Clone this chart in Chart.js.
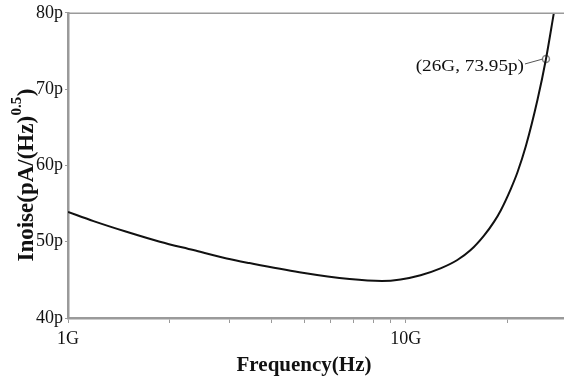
<!DOCTYPE html>
<html>
<head>
<meta charset="utf-8">
<script src="https://cdn.jsdelivr.net/npm/chart.js@4.4.1/dist/chart.umd.min.js"></script>
<style>
  html, body { margin: 0; padding: 0; background: #fff; }
  #wrap { width: 564px; height: 383px; position: relative; }
</style>
</head>
<body>
<div id="wrap"><canvas id="c"></canvas></div>
<script>
// ---- data (frequency in GHz, noise current in pA/sqrt(Hz)) ----
const freqGHz = [1.0, 1.19, 1.49, 1.87, 2.35, 2.95, 3.44, 4.84, 6.82, 8.5, 9.65, 11.06, 12.67, 14.21, 15.56, 17.04, 18.24, 19.10, 20.45, 21.41, 22.66, 24.54, 26.0, 27.44];
const inoise  = [53.9, 52.7, 51.3, 50.0, 48.9, 47.8, 47.2, 46.0, 45.1, 44.85, 45.05, 45.6, 46.5, 47.6, 48.9, 50.8, 52.6, 54.1, 56.9, 59.1, 62.5, 68.6, 73.95, 80.0];
const markerPoint = { f: 26e9, v: 73.95 };
const markerLabel = '(26G, 73.95p)';
const xTickValues = [1e9, 2e9, 3e9, 4e9, 5e9, 6e9, 7e9, 8e9, 9e9, 1e10, 2e10];
const xTickLabels = { 1e9: '1G', 1e10: '10G' };
const yTickValues = [40, 50, 60, 70, 80];
const xTitle = 'Frequency(Hz)';
const yTitleMain = 'Inoise(pA/(Hz)';
const yTitleSup = '0.5';
const yTitleEnd = ')';

const serif = '"Liberation Serif", "Times New Roman", serif';
const axisGray = '#9a9a9a';

const points = freqGHz.map((f, i) => ({ x: f * 1e9, y: inoise[i] }));

const extras = {
  id: 'extras',
  afterDraw(chart) {
    const ctx = chart.ctx;
    const a = chart.chartArea;
    const xs = chart.scales.x, ys = chart.scales.y;
    ctx.save();
    // top border
    ctx.strokeStyle = axisGray;
    ctx.lineWidth = 1.5;
    ctx.beginPath();
    ctx.moveTo(a.left, a.top + 0.5);
    ctx.lineTo(a.right, a.top + 0.5);
    ctx.stroke();

    // marker annotation
    const px = xs.getPixelForValue(markerPoint.f);
    const py = ys.getPixelForValue(markerPoint.v);
    const tx = px - 22, ty = py + 8;
    ctx.strokeStyle = '#555';
    ctx.lineWidth = 1;
    ctx.beginPath();
    ctx.moveTo(tx + 1, ty - 3);
    ctx.lineTo(px - 3, py);
    ctx.stroke();
    ctx.save();
    ctx.translate(tx, ty);
    ctx.scale(1.2, 1);
    ctx.font = '16px ' + serif;
    ctx.fillStyle = '#111';
    ctx.textAlign = 'right';
    ctx.textBaseline = 'middle';
    ctx.fillText(markerLabel, 0, 0);
    ctx.restore();

    // x title
    ctx.font = 'bold 21px ' + serif;
    ctx.fillStyle = '#111';
    ctx.textAlign = 'center';
    ctx.textBaseline = 'middle';
    ctx.fillText(xTitle, 304, 366);

    // y title with superscript
    ctx.translate(25, 175);
    ctx.rotate(-Math.PI / 2);
    const mainFont = 'bold 23px ' + serif;
    const supFont = 'bold 15px ' + serif;
    ctx.font = mainFont;
    const w1 = ctx.measureText(yTitleMain).width;
    const w3 = ctx.measureText(yTitleEnd).width;
    ctx.font = supFont;
    const w2 = ctx.measureText(yTitleSup).width;
    const total = w1 + w2 + w3 + 1;
    let x0 = -total / 2;
    ctx.textAlign = 'left';
    ctx.textBaseline = 'middle';
    ctx.fillStyle = '#111';
    ctx.font = mainFont;
    ctx.fillText(yTitleMain, x0, 2);
    ctx.font = supFont;
    ctx.fillText(yTitleSup, x0 + w1 + 0.5, -8);
    ctx.font = mainFont;
    ctx.fillText(yTitleEnd, x0 + w1 + w2 + 1, 2);
    ctx.restore();
  }
};

new Chart(document.getElementById('c'), {
  type: 'line',
  data: {
    datasets: [
      {
        data: points,
        borderColor: '#111',
        borderWidth: 2,
        pointRadius: 0,
        cubicInterpolationMode: 'monotone',
        fill: false
      },
      {
        data: [{ x: markerPoint.f, y: markerPoint.v }],
        showLine: false,
        pointRadius: 3.5,
        pointBorderColor: '#8a8a8a',
        pointBackgroundColor: 'rgba(0,0,0,0)',
        pointBorderWidth: 1.5
      }
    ]
  },
  options: {
    responsive: true,
    maintainAspectRatio: false,
    animation: false,
    devicePixelRatio: 1,
    layout: { autoPadding: false, padding: { left: 0, right: 0, top: 12, bottom: 0 } },
    plugins: { legend: { display: false }, tooltip: { enabled: false } },
    scales: {
      x: {
        type: 'logarithmic',
        min: 1e9,
        max: 29.4e9,
        afterBuildTicks(scale) { scale.ticks = xTickValues.map(v => ({ value: v })); },
        afterFit(scale) { scale.height = 65; },
        border: { display: true, color: axisGray, width: 2.5 },
        grid: { display: true, drawOnChartArea: false, drawTicks: true, tickLength: 5, color: axisGray, lineWidth: 1 },
        ticks: {
          autoSkip: false,
          maxRotation: 0,
          padding: 5,
          color: '#111',
          font: { family: serif, size: 18 },
          callback: (v) => xTickLabels[v] || ''
        },
        title: { display: false }
      },
      y: {
        type: 'linear',
        min: 40,
        max: 80,
        afterBuildTicks(scale) { scale.ticks = yTickValues.map(v => ({ value: v })); },
        afterFit(scale) { scale.width = 68; },
        border: { display: true, color: axisGray, width: 2.5 },
        grid: { display: true, drawOnChartArea: false, drawTicks: true, tickLength: 3, color: axisGray, lineWidth: 1 },
        ticks: {
          padding: 2,
          color: '#111',
          font: { family: serif, size: 18 },
          callback: (v) => v + 'p'
        }
      }
    }
  },
  plugins: [extras]
});
</script>
</body>
</html>
